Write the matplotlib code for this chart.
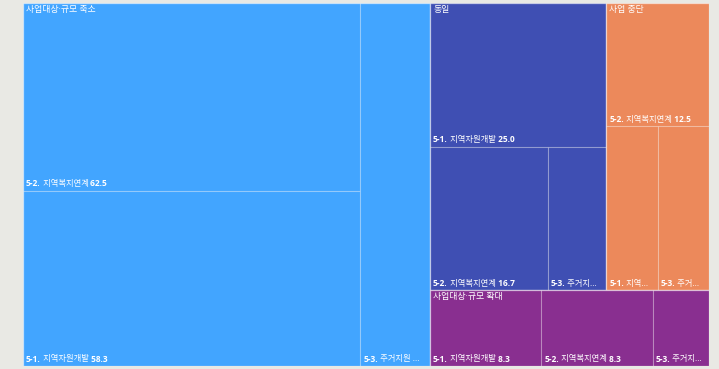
import matplotlib
matplotlib.use('Agg')
import matplotlib.pyplot as plt
from matplotlib.patches import Rectangle
from matplotlib.font_manager import FontProperties

plt.rcParams['font.family'] = ['Open Sans', 'Noto Sans CJK KR', 'DejaVu Sans']

# treemap data: group -> items (5-1, 5-2, 5-3)
groups = ['사업대상·규모 축소', '동일', '사업 중단', '사업대상·규모 확대']
item_codes = ['5-1.', '5-2.', '5-3.']
item_names = ['지역자원개발', '지역복지연계', '주거지원']
shrink = [58.3, 62.5, 25.0]
same = [25.0, 16.7, 8.3]
stop = [8.3, 12.5, 8.3]
expand = [8.3, 8.3, 4.2]
group_values = [shrink, same, stop, expand]
group_colors = ['#42A5FF', '#3F4FB3', '#EC895B', '#892F90']

PHI = (1 + 5 ** 0.5) / 2


def squarify(values, x0, y0, x1, y1, ratio=PHI):
    # squarified layout (d3 style), values already sorted descending
    rects = []
    n = len(values)
    total = sum(values)
    i0 = i1 = 0
    while i0 < n:
        dx, dy = x1 - x0, y1 - y0
        s = values[i1]
        i1 += 1
        lo = hi = s
        alpha = max(dy / dx, dx / dy) / (total * ratio)
        beta = s * s * alpha
        best = max(hi / beta, beta / lo)
        while i1 < n:
            v = values[i1]
            s2 = s + v
            lo2, hi2 = min(lo, v), max(hi, v)
            beta = s2 * s2 * alpha
            r = max(hi2 / beta, beta / lo2)
            if r > best:
                break
            s, lo, hi, best = s2, lo2, hi2, r
            i1 += 1
        row = values[i0:i1]
        if dx < dy:
            yb = y0 + dy * s / total if i1 < n else y1
            xx = x0
            for v in row:
                w = dx * v / s
                rects.append((xx, y0, xx + w, yb))
                xx += w
            y0 = yb
        else:
            xb = x0 + dx * s / total if i1 < n else x1
            yy = y0
            for v in row:
                h = dy * v / s
                rects.append((x0, yy, xb, yy + h))
                yy += h
            x0 = xb
        total -= s
        i0 = i1
    return rects


W, H = 686, 363
fig = plt.figure(figsize=(7.19, 3.69), dpi=100, facecolor='#E9E9E4')
ax = fig.add_axes([23 / 719, 3 / 369, W / 719, H / 369])
ax.set_xlim(0, W)
ax.set_ylim(H, 0)
ax.axis('off')

renderer = fig.canvas.get_renderer()
FS = 6
fam = ['Open Sans', 'Noto Sans CJK KR']
bold = FontProperties(family=fam, weight='bold', size=FS)
regular = FontProperties(family=fam, size=FS)
title_font = FontProperties(family=fam, size=6.4)


def text_w(s, prop):
    w, h, d = renderer.get_text_width_height_descent(s, prop, ismath=False)
    return w


def fit_label(code, name, value, avail):
    cands = [[(code, bold), (' ' + name, regular), (' ' + f'{value:.1f}', bold)]]
    for k in range(len(name), 0, -1):
        tail = ' ...' if k == len(name) else '...'
        cands.append([(code, bold), (' ' + name[:k] + tail, regular)])
    for pieces in cands:
        if sum(text_w(s, p) for s, p in pieces) <= avail:
            return pieces
    return cands[-1]


def draw_pieces(pieces, x, y, va):
    for s, p in pieces:
        ax.text(x, y, s, fontproperties=p, color='white', va=va, ha='left')
        x += text_w(s, p)


totals = [sum(v) for v in group_values]
g_order = sorted(range(len(groups)), key=lambda i: -totals[i])
g_rects = squarify([totals[i] for i in g_order], 0, 0, W, H)

for gi, (gx0, gy0, gx1, gy1) in zip(g_order, g_rects):
    vals = group_values[gi]
    order = sorted(range(len(vals)), key=lambda i: -vals[i])
    leaf_rects = squarify([vals[i] for i in order], gx0, gy0, gx1, gy1)
    for li, (x0, y0, x1, y1) in zip(order, leaf_rects):
        ax.add_patch(Rectangle((x0, y0), x1 - x0, y1 - y0,
                               facecolor=group_colors[gi],
                               edgecolor=(1, 1, 1, 0.22), lw=0.8))
        pieces = fit_label(item_codes[li], item_names[li], vals[li], x1 - x0 - 6)
        draw_pieces(pieces, x0 + 3, y1 - 2.5, 'bottom')
    ax.add_patch(Rectangle((gx0, gy0), gx1 - gx0, gy1 - gy0, fill=False,
                           edgecolor=(1, 1, 1, 0.35), lw=1.0))
    ax.text(gx0 + 3, gy0 + 2, groups[gi], fontproperties=title_font,
            color='white', va='top', ha='left')

fig.savefig('out.png', dpi=100, facecolor=fig.get_facecolor())
